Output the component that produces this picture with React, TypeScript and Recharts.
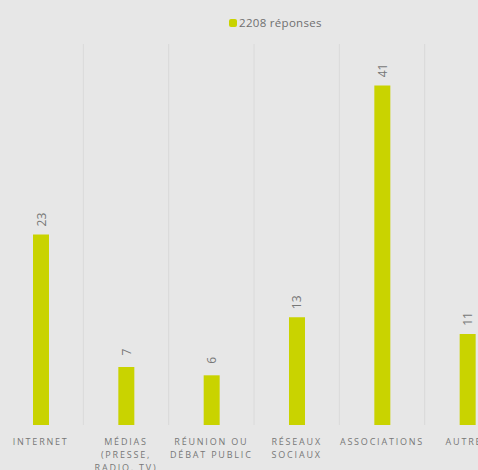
import React from "react"
import { BarChart, Bar, XAxis, YAxis, CartesianGrid, LabelList } from "recharts"

const categories = ["INTERNET", "MÉDIAS\n(PRESSE,\nRADIO, TV)", "RÉUNION OU\nDÉBAT PUBLIC", "RÉSEAUX\nSOCIAUX", "ASSOCIATIONS", "AUTRES"]
const responses = [23, 7, 6, 13, 41, 11]
const seriesName = "2208 réponses"

const data = categories.map((c, i) => ({ name: c, value: responses[i] }))

const BAR_COLOR = "#c9d300"
const TEXT_COLOR = "#777777"

const MultiLineTick = ({ x, y, payload }: any) => {
  const lines = String(payload.value).split("\n")
  return (
    <text x={x} y={y} textAnchor="middle" fill={TEXT_COLOR} fontSize={9} letterSpacing={1.8} fontFamily="'Open Sans', sans-serif">
      {lines.map((l, i) => (
        <tspan key={i} x={x} dy={i === 0 ? 12 : 13}>{l}</tspan>
      ))}
    </text>
  )
}

const RotatedLabel = ({ x, y, width, value }: any) => {
  const cx = x + width / 2
  const cy = y - 15
  return (
    <text x={cx} y={cy} transform={`rotate(-90 ${cx} ${cy})`} textAnchor="middle" dominantBaseline="central" fill={TEXT_COLOR} fontSize={12} fontFamily="'Open Sans', sans-serif">
      {value}
    </text>
  )
}

export default function App() {
  return (
    <div style={{ position: "absolute", left: 0, top: 0, width: 478, height: 470, overflow: "hidden", background: "#e7e7e7" }}>
      <div style={{ position: "absolute", top: 15, left: 229, fontFamily: "'Open Sans', sans-serif", fontSize: 11.5, letterSpacing: 0.3, color: "#6f6f6f", whiteSpace: "nowrap", display: "flex", alignItems: "center" }}>
        <span style={{ display: "inline-block", width: 8, height: 8, borderRadius: 2, background: BAR_COLOR, marginRight: 2 }} />
        <span>{seriesName}</span>
      </div>
      <div style={{ position: "absolute", left: -2, top: 0 }}>
        <BarChart width={512} height={470} data={data} margin={{ top: 44, right: 0, left: 0, bottom: 0 }}>
          <CartesianGrid
            horizontal={false}
            stroke="#dadada"
            verticalCoordinatesGenerator={({ offset }: any) =>
              categories.slice(1).map((_, i) => offset.left + ((i + 1) * offset.width) / categories.length)
            }
          />
          <XAxis dataKey="name" interval={0} axisLine={false} tickLine={false} height={45} tick={<MultiLineTick />} />
          <YAxis hide domain={[0, 46]} />
          <Bar dataKey="value" name={seriesName} fill={BAR_COLOR} barSize={16} isAnimationActive={false}>
            <LabelList dataKey="value" content={<RotatedLabel />} />
          </Bar>
        </BarChart>
      </div>
    </div>
  )
}
